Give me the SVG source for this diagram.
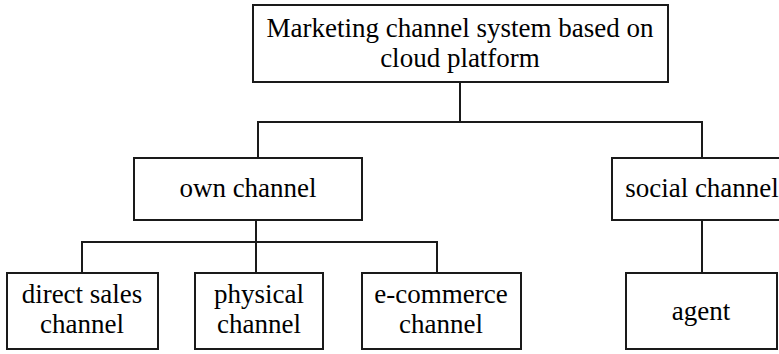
<svg xmlns="http://www.w3.org/2000/svg" width="779" height="354" viewBox="0 0 779 354">
<rect x="0" y="0" width="779" height="354" fill="#fff"/>
<g id="connectors" stroke="#1a1a1a" stroke-width="2">
<line x1="460" y1="82" x2="460" y2="122"/>
<line x1="257" y1="122" x2="703" y2="122"/>
<line x1="258" y1="122" x2="258" y2="158"/>
<line x1="702" y1="122" x2="702" y2="158"/>
<line x1="256" y1="220" x2="256" y2="273"/>
<line x1="81" y1="242" x2="438" y2="242"/>
<line x1="82" y1="242" x2="82" y2="273"/>
<line x1="437" y1="242" x2="437" y2="273"/>
<line x1="702" y1="220" x2="702" y2="273"/>
</g>
<g id="root"><rect x="253" y="5" width="415" height="77" fill="#fff" stroke="#1a1a1a" stroke-width="2"/><text x="460" y="37" font-family="Liberation Serif" font-size="27" text-anchor="middle">Marketing channel system based on</text><text x="460" y="67" font-family="Liberation Serif" font-size="27" text-anchor="middle">cloud platform</text></g>
<g id="own"><rect x="134" y="158" width="228" height="62" fill="#fff" stroke="#1a1a1a" stroke-width="2"/><text x="248" y="197" font-family="Liberation Serif" font-size="27" text-anchor="middle">own channel</text></g>
<g id="social"><rect x="612" y="158" width="180" height="62" fill="#fff" stroke="#1a1a1a" stroke-width="2"/><text x="702" y="197" font-family="Liberation Serif" font-size="27" text-anchor="middle">social channel</text></g>
<g id="direct"><rect x="7" y="273" width="151" height="76" fill="#fff" stroke="#1a1a1a" stroke-width="2"/><text x="82" y="303" font-family="Liberation Serif" font-size="27" text-anchor="middle">direct sales</text><text x="82" y="333" font-family="Liberation Serif" font-size="27" text-anchor="middle">channel</text></g>
<g id="physical"><rect x="195" y="273" width="128" height="76" fill="#fff" stroke="#1a1a1a" stroke-width="2"/><text x="259" y="303" font-family="Liberation Serif" font-size="27" text-anchor="middle">physical</text><text x="259" y="333" font-family="Liberation Serif" font-size="27" text-anchor="middle">channel</text></g>
<g id="ecommerce"><rect x="362" y="273" width="159" height="76" fill="#fff" stroke="#1a1a1a" stroke-width="2"/><text x="441" y="303" font-family="Liberation Serif" font-size="27" text-anchor="middle">e-commerce</text><text x="441" y="333" font-family="Liberation Serif" font-size="27" text-anchor="middle">channel</text></g>
<g id="agent"><rect x="626" y="273" width="151" height="76" fill="#fff" stroke="#1a1a1a" stroke-width="2"/><text x="701" y="320" font-family="Liberation Serif" font-size="27" text-anchor="middle">agent</text></g>
</svg>
